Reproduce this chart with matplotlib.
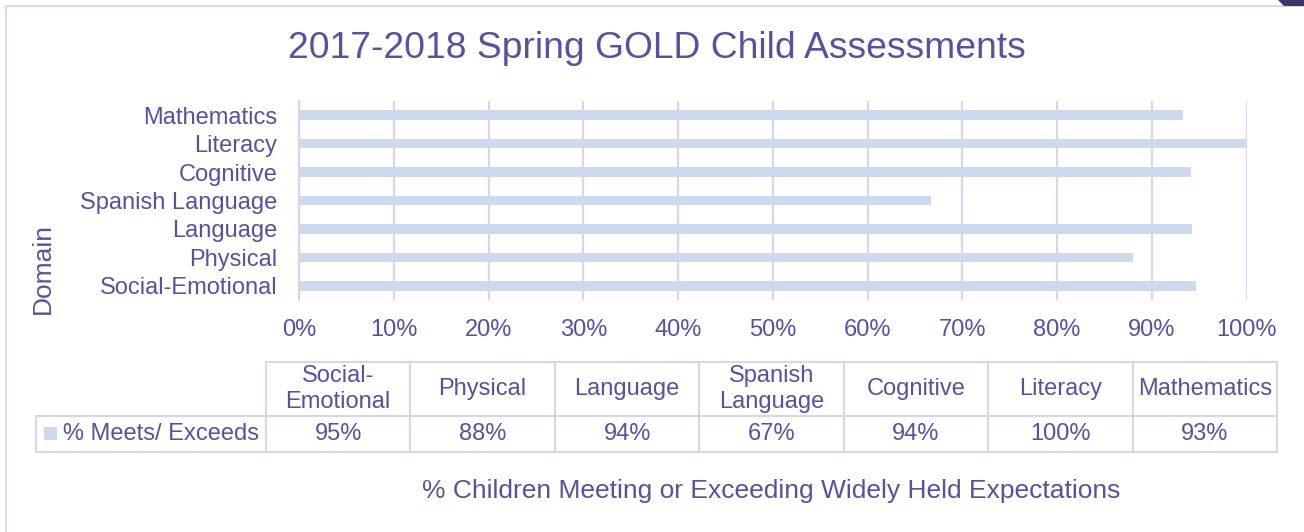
import matplotlib.pyplot as plt
from matplotlib.patches import Rectangle, Polygon

plt.rcParams['font.family'] = ['Liberation Sans', 'DejaVu Sans']

domains = ['Social-Emotional', 'Physical', 'Language', 'Spanish Language',
           'Cognitive', 'Literacy', 'Mathematics']
table_headers = ['Social-\nEmotional', 'Physical', 'Language', 'Spanish\nLanguage',
                 'Cognitive', 'Literacy', 'Mathematics']
meets = [0.946, 0.880, 0.942, 0.667, 0.941, 1.0, 0.933]
series_name = '% Meets/ Exceeds'
xticks = [0, 0.1, 0.2, 0.3, 0.4, 0.5, 0.6, 0.7, 0.8, 0.9, 1.0]

purple = '#5A4FA0'
bar_col = '#CDD9EC'
grid_col = '#DAD6EA'
fs = 17
fs_title = 19

W, H = 1304, 532
fig = plt.figure(figsize=(W / 100, H / 100), dpi=100)

# slide frame
fig.patches.append(Rectangle((6 / W, -0.1), 1.2, 1 - 6 / H + 0.1, transform=fig.transFigure,
                             fill=False, edgecolor='#DCD8EE', linewidth=1.5))
fig.patches.append(Polygon([(1278 / W, 1), (1304 / W, 1), (1304 / W, 1 - 6 / H), (1284 / W, 1 - 6 / H)],
                           closed=True, transform=fig.transFigure, facecolor='#3E3470', edgecolor='none'))

ax = fig.add_axes([299 / W, 1 - 300 / H, 947.7 / W, 199 / H])
y = range(len(domains))
ax.barh(y, meets, height=0.34, color=bar_col, zorder=2)
ax.set_xlim(0, 1)
ax.set_ylim(-0.5, len(domains) - 0.5)
ax.set_yticks(list(y))
ax.set_yticklabels(domains, fontsize=fs, color=purple)
ax.set_xticks(xticks)
ax.set_xticklabels([f'{int(round(t * 100))}%' for t in xticks], fontsize=fs, color=purple)
ax.tick_params(length=0, axis='x', pad=14)
ax.tick_params(length=0, axis='y', pad=15.5)
ax.grid(axis='x', color=grid_col, linewidth=1.6, zorder=0)
for s in ['top', 'right', 'bottom']:
    ax.spines[s].set_visible(False)
ax.spines['left'].set_color(grid_col)
ax.spines['left'].set_linewidth(1.6)

fig.text(657 / W, 1 - 48 / H, '2017-2018 Spring GOLD Child Assessments',
         ha='center', va='center', fontsize=26.8, color=purple)
fig.text(43 / W, 1 - 269 / H, 'Domain', rotation=90, ha='center', va='center',
         fontsize=fs_title, color=purple)
fig.text(771 / W, 1 - 491 / H, '% Children Meeting or Exceeding Widely Held Expectations',
         ha='center', va='center', fontsize=fs_title, color=purple)


# data table, sized in axes units
def ax_x(px):
    return (px - 299) / 947.7


def ax_y(py):
    return (300 - py) / 199


col_w = (ax_x(1277) - ax_x(266)) / len(domains)
lab_w = ax_x(266) - ax_x(36)
head_h = ax_y(362) - ax_y(416)
row_h = ax_y(416) - ax_y(452)

tbl = ax.table(cellText=[[f'{round(v * 100):.0f}%' for v in meets]],
               rowLabels=['   ' + series_name], colLabels=table_headers,
               colWidths=[col_w] * len(domains),
               cellLoc='center', rowLoc='left',
               bbox=[ax_x(266), ax_y(452), ax_x(1277) - ax_x(266), ax_y(362) - ax_y(452)])
tbl._autoColumns = []  # keep the fixed label column width
tbl.auto_set_font_size(False)
for (r, c), cell in tbl.get_celld().items():
    cell.set_edgecolor(grid_col)
    cell.set_linewidth(1.5)
    cell.get_text().set_color(purple)
    cell.get_text().set_fontsize(fs)
    cell.set_height(head_h if r == 0 else row_h)
    cell.set_width(lab_w if c == -1 else col_w)
    if c == -1:
        cell.PAD = 0.03

ax.add_patch(Rectangle((ax_x(44), ax_y(440)), ax_x(57) - ax_x(44), ax_y(427) - ax_y(440),
                       transform=ax.transAxes, facecolor=bar_col, edgecolor='none', clip_on=False))

fig.savefig('out.png', dpi=100)
